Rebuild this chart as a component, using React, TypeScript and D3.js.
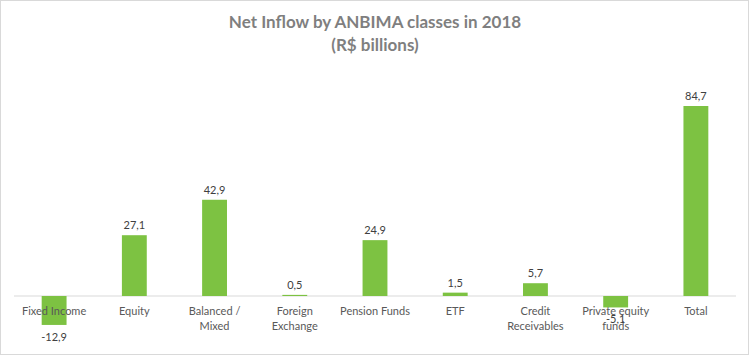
import React from "react";
import * as d3 from "d3";

const categories = ["Fixed Income", "Equity", "Balanced / Mixed", "Foreign Exchange", "Pension Funds", "ETF", "Credit Receivables", "Private equity funds", "Total"];
const categoryLines = [["Fixed Income"], ["Equity"], ["Balanced /", "Mixed"], ["Foreign", "Exchange"], ["Pension Funds"], ["ETF"], ["Credit", "Receivables"], ["Private equity", "funds"], ["Total"]];
const values = [-12.9, 27.1, 42.9, 0.5, 24.9, 1.5, 5.7, -5.1, 84.7];
const titleLines = ["Net Inflow by ANBIMA classes in 2018", "(R$ billions)"];

const W = 751, H = 357;
const FONT = "Lato, 'Open Sans', sans-serif";

export default function App() {
  const x = d3.scaleBand<string>().domain(categories).range([14, 736]).paddingInner(0.69).paddingOuter(0.345);
  const y = d3.scaleLinear().domain([0, 84.7]).range([296, 106]);
  const fmt = (v: number) => v.toFixed(1).replace(".", ",");
  return (
    <svg width={W} height={H} style={{ position: "absolute", left: 0, top: 0 }} fontFamily={FONT}>
      <rect x={0.5} y={0.5} width={W - 3} height={H - 3} fill="#fff" stroke="#d9d9d9" />
      {titleLines.map((t, i) => (
        <text key={i} x={375} y={28 + i * 23} textAnchor="middle" fontSize={17} fontWeight="bold" fill="#7f7f7f">{t}</text>
      ))}
      <line x1={14} x2={736} y1={y(0)} y2={y(0)} stroke="#d9d9d9" strokeWidth={1} />
      {categories.map((c, i) => {
        const v = values[i];
        const bx = x(c)!;
        const top = Math.min(y(v), y(0));
        const h = Math.abs(y(v) - y(0));
        return <rect key={c} x={bx} y={top} width={x.bandwidth()} height={h} fill="#7dc242" />;
      })}
      {categoryLines.map((lines, i) => (
        <text key={i} x={x(categories[i])! + x.bandwidth() / 2} y={315} textAnchor="middle" fontSize={11} fill="#595959">
          {lines.map((l, j) => <tspan key={j} x={x(categories[i])! + x.bandwidth() / 2} dy={j === 0 ? 0 : 15}>{l}</tspan>)}
        </text>
      ))}
      {categories.map((c, i) => {
        const v = values[i];
        const cx = x(c)! + x.bandwidth() / 2;
        const ly = v >= 0 ? y(v) - 6 : y(v) + 16;
        return <text key={c} x={cx} y={ly} textAnchor="middle" fontSize={11} fill="#404040">{fmt(v)}</text>;
      })}
    </svg>
  );
}
